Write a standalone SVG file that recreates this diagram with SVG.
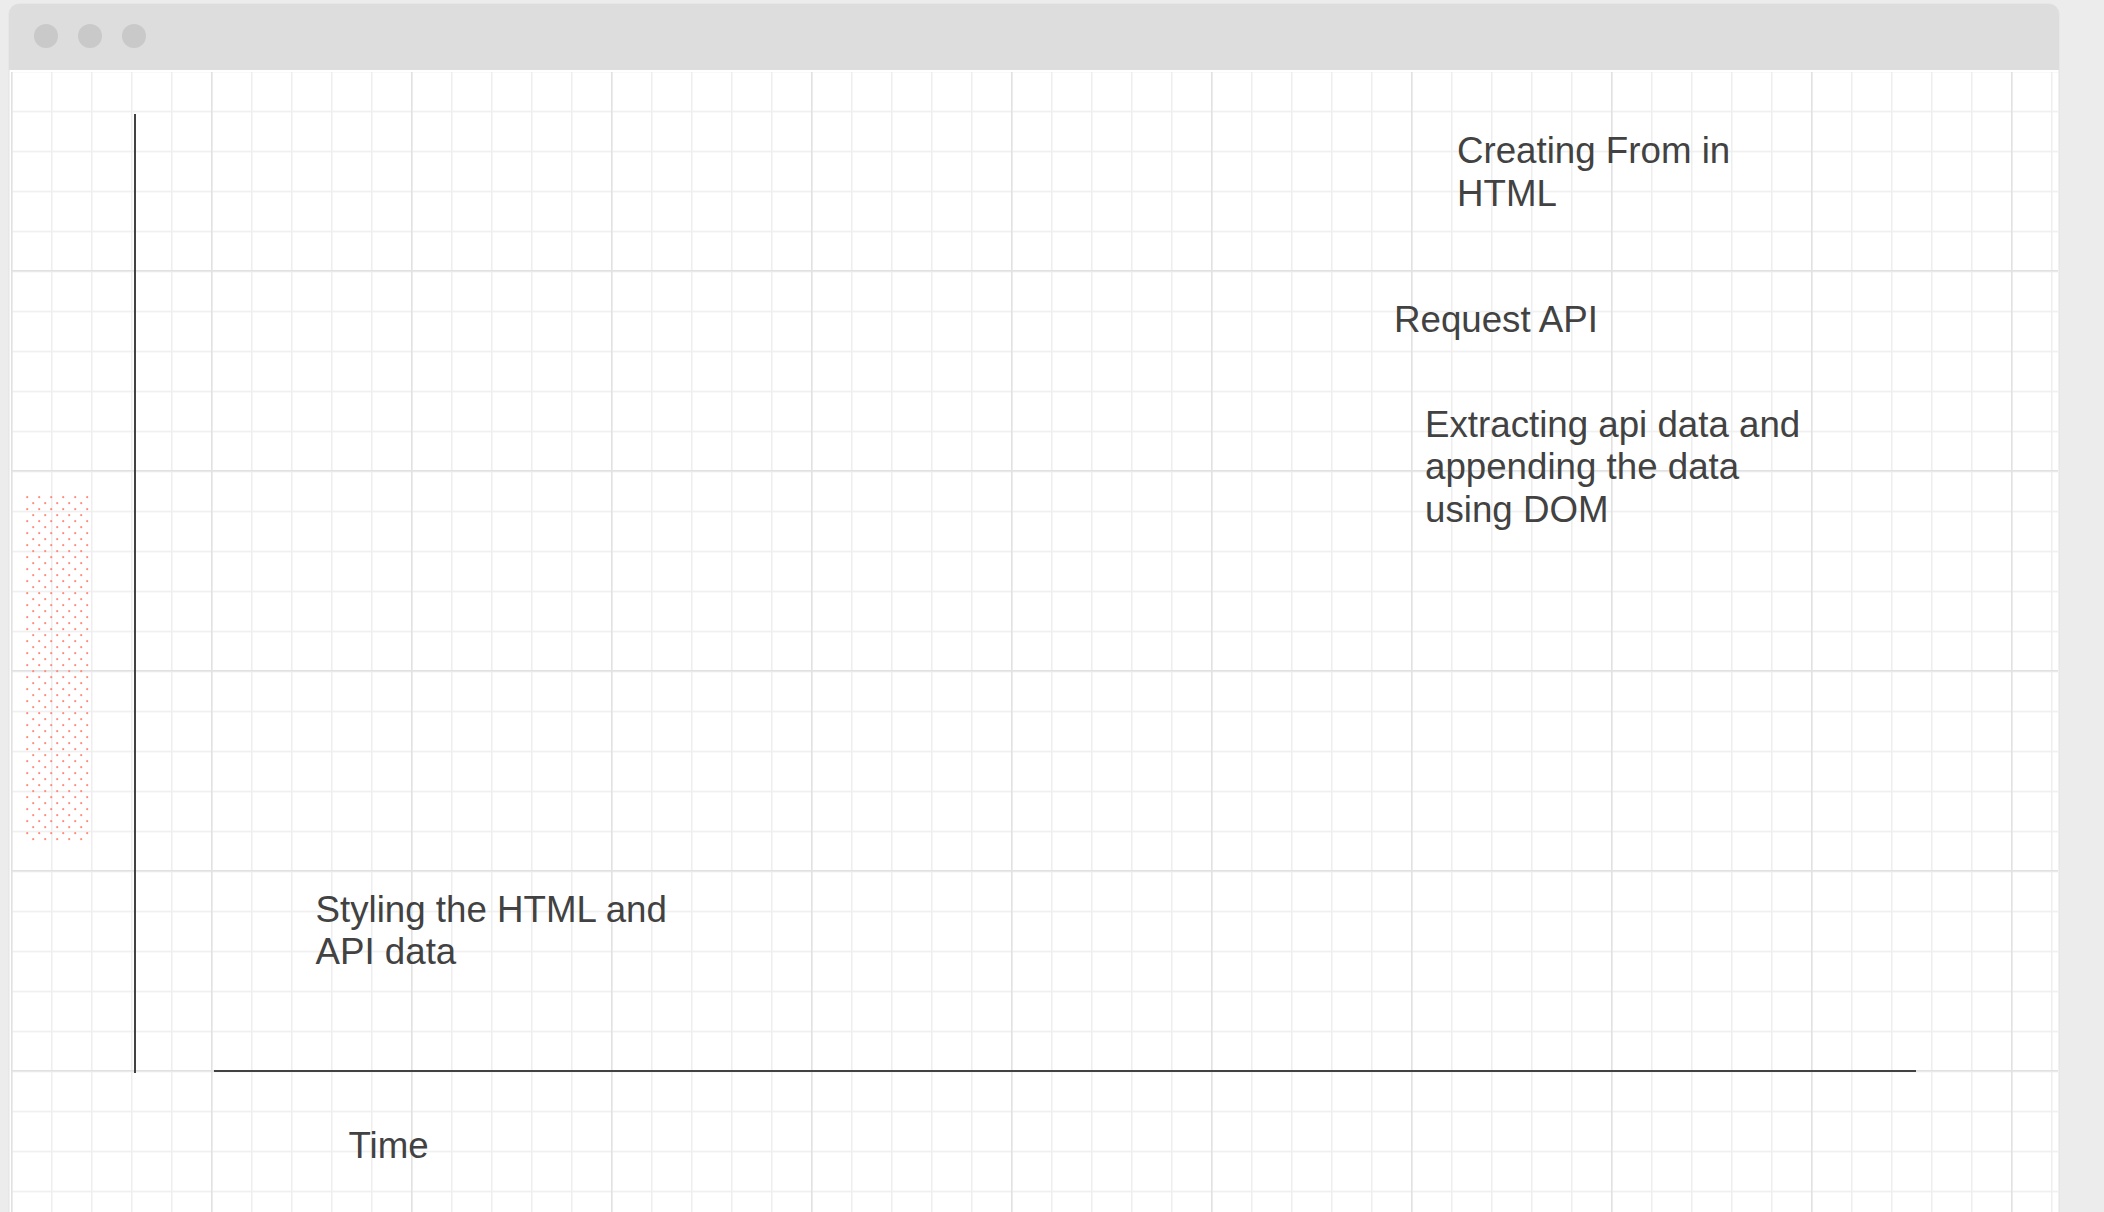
<svg xmlns="http://www.w3.org/2000/svg" width="2104" height="1212" viewBox="0 0 2104 1212">
  <style>
    .lbl { font-family: "Liberation Sans", Arial, sans-serif; font-size: 36.7px; fill: #424242; }
    .axis { stroke: #424242; stroke-width: 2; fill: none; }
  </style>
  <defs>
    <pattern id="minor" patternUnits="userSpaceOnUse" x="11" y="30.7" width="40" height="40">
      <path d="M0.75 0V40M0 0.75H40" stroke="#eeeeee" stroke-width="1.5" fill="none"/>
    </pattern>
    <pattern id="major" patternUnits="userSpaceOnUse" x="11" y="70" width="200" height="200">
      <path d="M0.75 0V200M0 0.75H200" stroke="#e1e1e1" stroke-width="1.5" fill="none"/>
    </pattern>
    <pattern id="dots" patternUnits="userSpaceOnUse" x="26" y="496" width="12" height="12">
      <circle cx="1.2" cy="1.2" r="1.1" fill="#ff8c7c"/>
      <circle cx="7.2" cy="7.2" r="1.1" fill="#ff8c7c"/>
    </pattern>
  </defs>

  <rect width="2104" height="1212" fill="#ececec"/>

  <g id="window">
    <rect x="9" y="4" width="2050" height="1230" rx="10" fill="#ffffff" stroke="#e2e2e2" stroke-width="1"/>
    <path d="M9 70V14a10 10 0 0 1 10-10H2049a10 10 0 0 1 10 10V70Z" fill="#dddddd"/>
    <circle cx="46" cy="36" r="12" fill="#c9c9c9"/>
    <circle cx="90" cy="36" r="12" fill="#c9c9c9"/>
    <circle cx="134" cy="36" r="12" fill="#c9c9c9"/>
    <rect x="11" y="72" width="2047" height="1140" fill="url(#minor)"/>
    <rect x="11" y="72" width="2047" height="1140" fill="url(#major)"/>
  </g>

  <g id="highlight">
    <rect x="26" y="496" width="65" height="347" fill="url(#dots)"/>
  </g>

  <g id="connectors">
    <line class="axis" x1="135" y1="114" x2="135" y2="1073"/>
    <line class="axis" x1="214" y1="1071" x2="1916" y2="1071"/>
  </g>

  <g id="node-creating-form">
    <text class="lbl" x="1457" y="163">Creating From in</text>
    <text class="lbl" x="1457" y="206">HTML</text>
  </g>

  <g id="node-request-api">
    <text class="lbl" x="1394" y="332">Request API</text>
  </g>

  <g id="node-extracting">
    <text class="lbl" x="1425" y="437">Extracting api data and</text>
    <text class="lbl" x="1425" y="479">appending the data</text>
    <text class="lbl" x="1425" y="522">using DOM</text>
  </g>

  <g id="node-styling">
    <text class="lbl" x="315.5" y="922">Styling the HTML and</text>
    <text class="lbl" x="315.5" y="964">API data</text>
  </g>

  <g id="node-time">
    <text class="lbl" x="348.5" y="1158">Time</text>
  </g>
</svg>
